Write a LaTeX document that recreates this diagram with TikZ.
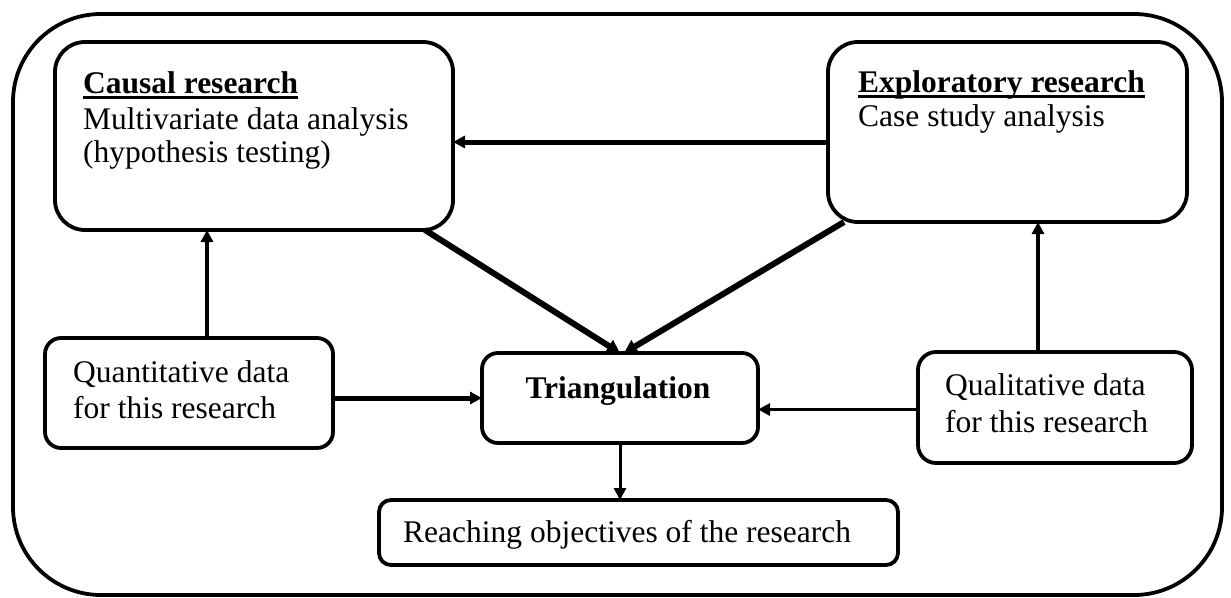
\documentclass[tikz,border=0pt]{standalone}
\usepackage{fontspec}
\setmainfont{Liberation Serif}
\usetikzlibrary{arrows.meta}
% bold heading with a heavy rule below it
\newsavebox\headbox
\newcommand\headline[1]{\sbox\headbox{\textbf{#1}}\usebox\headbox\llap{\rule[-6pt]{\wd\headbox}{3pt}}}
\begin{document}
\begin{tikzpicture}[x=1pt,y=-1pt,
  box/.style={draw, line width=3.8pt, inner sep=0pt, outer sep=0pt, anchor=north west},
  txt/.style={anchor=base west, inner sep=0pt, font=\fontsize{31.5}{36}\selectfont},
  link/.style={line width=3.6pt, -{Triangle[length=12pt,width=12pt]}},
  heavy/.style={line width=6pt, -{Triangle[length=13pt,width=14pt]}}]
\useasboundingbox (0,0) rectangle (1231,597);

% outer frame
\node[box, rounded corners=88pt, minimum width=1209pt, minimum height=581pt] (frame) at (13,14) {};

% boxes
\node[box, rounded corners=30pt, minimum width=398pt, minimum height=188pt] (causal) at (55,42) {};
\node[box, rounded corners=30pt, minimum width=359pt, minimum height=180pt] (expl) at (828,42) {};
\node[box, rounded corners=16pt, minimum width=288pt, minimum height=110pt] (quant) at (45,338) {};
\node[box, rounded corners=16pt, minimum width=276pt, minimum height=90pt] (tri) at (482,353) {};
\node[box, rounded corners=18pt, minimum width=274pt, minimum height=111pt] (qual) at (918,352) {};
\node[box, rounded corners=12pt, minimum width=519pt, minimum height=65pt] (reach) at (379,500) {};

% texts
\node[txt] (c1) at (83,93) {\headline{Causal research}};
\node[txt] (c2) at (83,129) {Multivariate data analysis};
\node[txt] (c3) at (83,162) {(hypothesis testing)};
\node[txt] (e1) at (858,92) {\headline{Exploratory research}};
\node[txt] (e2) at (858,126) {Case study analysis};
\node[txt] (q1) at (73,382) {Quantitative data};
\node[txt] (q2) at (73,418) {for this research};
\node[txt] (l1) at (945,395) {Qualitative data};
\node[txt] (l2) at (945,432) {for this research};
\node[txt, anchor=base] (t1) at (618,398) {\textbf{Triangulation}};
\node[txt] (r1) at (403,542) {Reaching objectives of the research};

% connectors
\draw[link, line width=5pt] ([yshift=-10pt]expl.west) -- ([yshift=-10pt]expl.west -| causal.east);
\draw[heavy] ([xshift=-28pt]causal.south east) -- ([xshift=0pt]tri.north);
\draw[heavy] ([xshift=16pt]expl.south west) -- ([xshift=4pt]tri.north);
\draw[link] ([xshift=18pt]quant.north) -- ([xshift=18pt]quant.north |- causal.south);
\draw[link, line width=5pt] ([yshift=-5pt]quant.east) -- ([yshift=-5pt]quant.east -| tri.west);
\draw[link] ([xshift=-17pt]qual.north) -- ([xshift=-17pt]qual.north |- expl.south);
\draw[link] ([yshift=-2pt]qual.west) -- ([yshift=-2pt]qual.west -| tri.east);
\draw[link, line width=3pt] (tri.south) -- (tri.south |- reach.north);
\end{tikzpicture}
\end{document}
